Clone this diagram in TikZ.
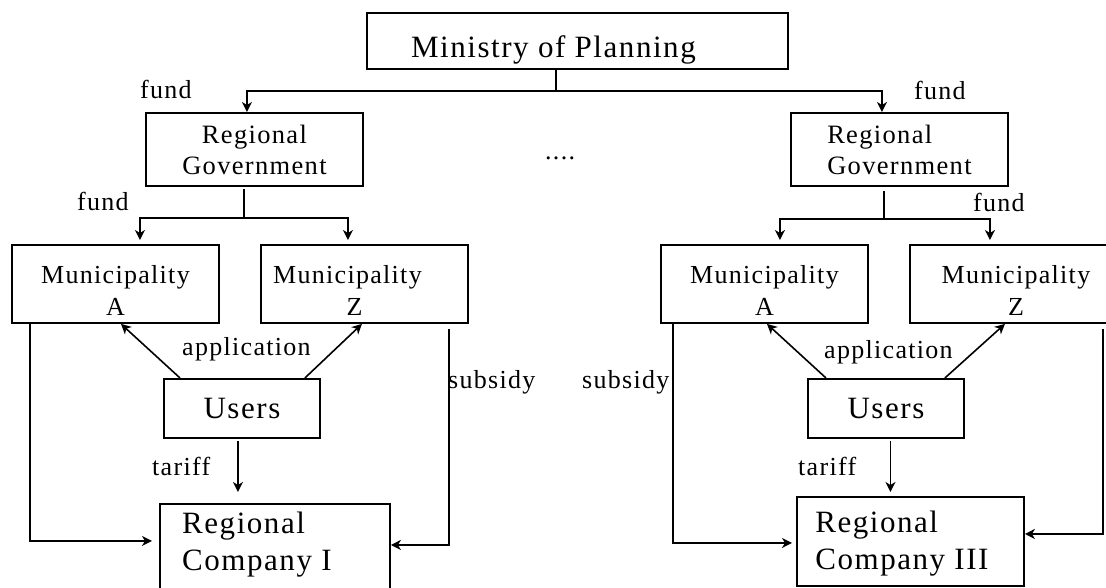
\documentclass[tikz,border=0pt]{standalone}
\usepackage{fontspec}
\setmainfont{Liberation Serif}[LetterSpace=5]
\usetikzlibrary{arrows.meta}

\begin{document}
\begin{tikzpicture}[
  x=1pt, y=-1pt,
  box/.style={draw, line width=1.9pt, inner xsep=0pt, inner ysep=0pt, anchor=north west},
  big/.style={font=\fontsize{31}{37}\selectfont},
  mid/.style={font=\fontsize{26.5}{31}\selectfont},
  muni/.style={box, font=\fontsize{26}{32}\selectfont, align=center, minimum width=207pt, text height=71pt, text depth=7pt},
  lbl/.style={anchor=base west, inner sep=0pt, font=\fontsize{26}{30}\selectfont},
  arr/.style={-{Stealth[length=10pt, width=10pt, inset=3pt]}, line width=1.6pt}
]
  \useasboundingbox (0,0) rectangle (1106,588);

  \node[box, big, minimum width=421pt, text height=45pt, text depth=11pt] (ministry) at (366,12) {Ministry of Planning\hspace*{48pt}};

  \node[box, mid, align=center, minimum width=217pt, text height=62pt, text depth=11pt] (govL) at (145,112) {Regional\\Government};
  \node[box, mid, align=left, minimum width=217pt, text height=62pt, text depth=11pt] (govR) at (790,112) {Regional\\Government};

  \node[muni] (munLA) at (11,244) {Municipality\\A};
  \node[muni] (munLZ) at (260,244) {Municipality\hspace*{34pt}\\Z\hspace*{20pt}};
  \node[muni] (munRA) at (660,244) {Municipality\\A};
  \node[muni, minimum width=212pt] (munRZ) at (909,244) {Municipality\\Z};

  \node[box, big, minimum width=156pt, text height=40pt, text depth=19pt] (usersL) at (163,378) {Users};
  \node[box, big, minimum width=156pt, text height=40pt, text depth=19pt] (usersR) at (807,378) {Users};

  \node[box, big, align=left, minimum width=230pt, text height=67pt, text depth=22pt] (compI) at (159,503) {Regional\\Company I\hspace*{36pt}};
  \node[box, big, align=left, minimum width=227pt, text height=73pt, text depth=16pt] (compIII) at (796,496) {Regional\\Company III\hspace*{17pt}};

  \node[lbl] (fundA) at (140,99) {fund};
  \node[lbl] (fundB) at (914,100) {fund};
  \node[lbl] (fundC) at (77,211) {fund};
  \node[lbl] (fundD) at (973,212) {fund};
  \node[lbl] (dots) at (545,160) {....};
  \node[lbl] (appL) at (182,355) {application};
  \node[lbl] (appR) at (824,358) {application};
  \node[lbl] (subL) at (448,388) {subsidy};
  \node[lbl] (subR) at (582,388) {subsidy};
  \node[lbl] (tarL) at (152,475) {tariff};
  \node[lbl] (tarR) at (798,475) {tariff};

  \draw[arr] ([xshift=-21.5pt]ministry.south) -- ++(0,21) -| ([xshift=-7.5pt]govL.north);
  \draw[arr] ([xshift=-21.5pt]ministry.south) -- ++(0,21) -| ([xshift=-17.5pt]govR.north);

  \draw[arr, shorten >=4pt] ([xshift=-10.5pt, yshift=-2pt]govL.south) -- ++(0,29) -| ([xshift=24.5pt]munLA.north);
  \draw[arr, shorten >=4pt] ([xshift=-10.5pt, yshift=-2pt]govL.south) -- ++(0,29) -| ([xshift=-16.5pt]munLZ.north);
  \draw[arr, shorten >=4pt] ([xshift=-15.5pt, yshift=-4pt]govR.south) -- ++(0,28) -| ([xshift=15.5pt]munRA.north);
  \draw[arr, shorten >=4pt] ([xshift=-15.5pt, yshift=-4pt]govR.south) -- ++(0,28) -| ([xshift=-26pt]munRZ.north);

  \draw[arr] ([xshift=17pt]usersL.north west) -- ([xshift=5.5pt]munLA.south);
  \draw[arr] ([xshift=-16pt]usersL.north east) -- ([xshift=-2.5pt]munLZ.south);
  \draw[arr] ([xshift=19pt]usersR.north west) -- ([xshift=2.5pt]munRA.south);
  \draw[arr] ([xshift=-20pt]usersR.north east) -- ([xshift=-11pt]munRZ.south);

  \coordinate (tL) at ([xshift=-4pt, yshift=-2pt]usersL.south);
  \coordinate (tR) at ([xshift=4.5pt, yshift=-2pt]usersR.south);
  \draw[arr, shorten >=11pt] (tL) -- (tL |- compI.north);
  \draw[arr, shorten >=4pt] (tR) -- (tR |- compIII.north);

  \draw[arr, shorten >=7pt] ([xshift=19pt]munLA.south west) |- ([yshift=7.5pt]compI.west);
  \draw[arr] ([xshift=-20pt, yshift=-5pt]munLZ.south east) |- ([yshift=3.5pt]compI.east);
  \draw[arr, shorten >=4pt] ([xshift=13pt]munRA.south west) |- ([yshift=-1.5pt]compIII.west);
  \draw[arr] ([xshift=-20pt, yshift=-5pt]munRZ.south east) |- ([yshift=7.5pt]compIII.east);
\end{tikzpicture}
\end{document}
